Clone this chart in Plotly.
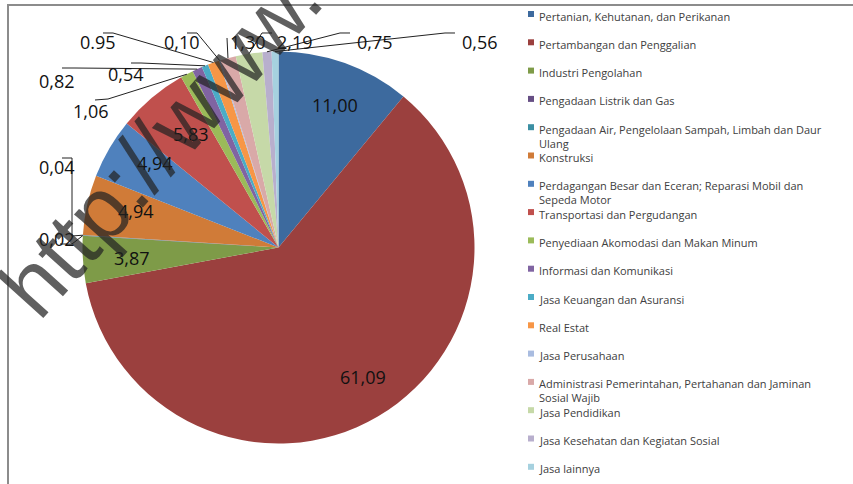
import math
import plotly.graph_objects as go

# ---------------------------------------------------------------------------
# Data — share (%) per sector, in pie order (clockwise from 12 o'clock)
# ---------------------------------------------------------------------------

SECTORS = [
    "Pertanian, Kehutanan, dan Perikanan",
    "Pertambangan dan Penggalian",
    "Industri Pengolahan",
    "Pengadaan Listrik dan Gas",
    "Pengadaan Air, Pengelolaan Sampah, Limbah dan Daur<br>Ulang",
    "Konstruksi",
    "Perdagangan Besar dan Eceran; Reparasi Mobil dan<br>Sepeda Motor",
    "Transportasi dan Pergudangan",
    "Penyediaan Akomodasi dan Makan Minum",
    "Informasi dan Komunikasi",
    "Jasa Keuangan dan Asuransi",
    "Real Estat",
    "Jasa Perusahaan",
    "Administrasi Pemerintahan, Pertahanan dan Jaminan<br>Sosial Wajib",
    "Jasa Pendidikan",
    "Jasa Kesehatan dan Kegiatan Sosial",
    "Jasa lainnya",
]
SHARES = [11.00, 61.09, 3.87, 0.02, 0.04, 4.94, 4.94, 5.83, 1.06, 0.82,
          0.54, 0.95, 0.10, 1.30, 2.19, 0.75, 0.56]
# labels as printed on the chart (one uses a dot)
SHARE_TEXT = ["11,00", "61,09", "3,87", "0,02", "0,04", "4,94", "4,94", "5,83",
              "1,06", "0,82", "0,54", "0.95", "0,10", "1,30", "2,19", "0,75", "0,56"]

COLORS = ["#3D6A9E", "#9B403E", "#7E9B48", "#664E84", "#3B8FA3", "#D07B38",
          "#4F81BD", "#C0504D", "#9BBB59", "#8064A2", "#4BACC6", "#F79646",
          "#A9BCE0", "#D9A9A8", "#C6D9A8", "#B8AFCD", "#A6D1DF"]

# slices labelled inside vs. with leader lines
INSIDE = [0, 1, 2, 5, 6, 7]

W, H = 853, 484
CX, CY, R = 278.5, 247.5, 196.0   # pie centre / radius in pixels


def px(x):
    return x / W


def py(y):
    return 1 - y / H


def slice_point(i, frac):
    before = sum(SHARES[:i])
    mid = (before + SHARES[i] / 2) / sum(SHARES) * 2 * math.pi
    return CX + frac * R * math.sin(mid), CY - frac * R * math.cos(mid)


fig = go.Figure()
fig.add_trace(go.Pie(
    labels=[s.replace("<br>", " ") for s in SECTORS],
    values=SHARES,
    sort=False,
    direction="clockwise",
    rotation=0,
    textinfo="none",
    marker=dict(colors=COLORS, line=dict(width=0)),
    domain=dict(x=[px(CX - R), px(CX + R)], y=[py(CY + R), py(CY - R)]),
    showlegend=False,
    hovertemplate="%{label}: %{value:.2f}%<extra></extra>",
))

annotations = []
shapes = []

# --- inside value labels ---
for i in INSIDE:
    x, y = slice_point(i, 0.85)
    annotations.append(dict(
        x=px(x), y=py(y), xref="paper", yref="paper", text=SHARE_TEXT[i],
        showarrow=False, font=dict(size=18, color="#111111"),
    ))

# --- outside labels: text centre, then leader-line waypoints (pixels) ---
OUTSIDE = {
    3:  ((37, 239), [(60, 244), (72, 244)]),
    4:  ((37, 153), [(62, 158), (72, 158), (72, 236)]),
    8:  ((71, 97), [(95, 100), (108, 99)]),
    9:  ((37, 67), [(62, 68), (75, 68)]),
    10: ((106, 60), [(131, 63), (141, 63)]),
    11: ((78, 28), [(103, 33), (113, 33)]),
    12: ((162, 28), [(187, 33), (197, 33)]),
    13: ((228, 28), [(227, 38)]),
    14: ((295, 28), [(272, 33), (262, 33)]),
    15: ((375, 28), [(350, 33), (340, 33)]),
    16: ((480, 28), [(455, 33), (445, 33)]),
}
for i, ((tx, ty), pts) in OUTSIDE.items():
    annotations.append(dict(
        x=px(tx), y=py(ty), xref="paper", yref="paper", text=SHARE_TEXT[i],
        showarrow=False, font=dict(size=18, color="#111111"),
    ))
    ex, ey = slice_point(i, 1.0)
    path = "M " + " L ".join(f"{px(a):.5f},{py(b):.5f}" for a, b in pts + [(ex, ey)])
    shapes.append(dict(type="path", xref="paper", yref="paper", path=path,
                       line=dict(color="#222222", width=1)))

# --- legend (drawn by hand to keep Excel's even row spacing) ---
for i, name in enumerate(SECTORS):
    yc = 14 + 28.3 * i
    shapes.append(dict(type="rect", xref="paper", yref="paper",
                       x0=px(528), x1=px(534), y0=py(yc + 3), y1=py(yc - 3),
                       fillcolor=COLORS[i], line=dict(width=0)))
    annotations.append(dict(
        x=px(537), y=py(yc - 7.5), xref="paper", yref="paper", text=name,
        xanchor="left", yanchor="top", align="left", showarrow=False,
        font=dict(size=11, color="#404040"),
    ))

# chart border (top and left edge visible in the crop)
shapes.append(dict(type="path", xref="paper", yref="paper",
                   path=f"M {px(8)},{py(490)} L {px(8)},{py(5)} L {px(860)},{py(5)}",
                   line=dict(color="#8C8C8C", width=2)))

# watermark
annotations.append(dict(
    x=px(160), y=py(142), xref="paper", yref="paper", text="http://www.",
    xanchor="center", yanchor="middle", textangle=-48, showarrow=False,
    font=dict(size=88, family="Liberation Sans, Arial", color="rgba(35,35,35,0.72)"),
))

fig.update_layout(
    width=W, height=H,
    margin=dict(l=0, r=0, t=0, b=0),
    paper_bgcolor="#FFFFFF",
    font=dict(family="Open Sans, Arial, sans-serif"),
    annotations=annotations,
    shapes=shapes,
)

fig.write_html("out.html", config={"displayModeBar": False},
               post_script="document.body.style.margin='0';document.body.style.padding='0';")
